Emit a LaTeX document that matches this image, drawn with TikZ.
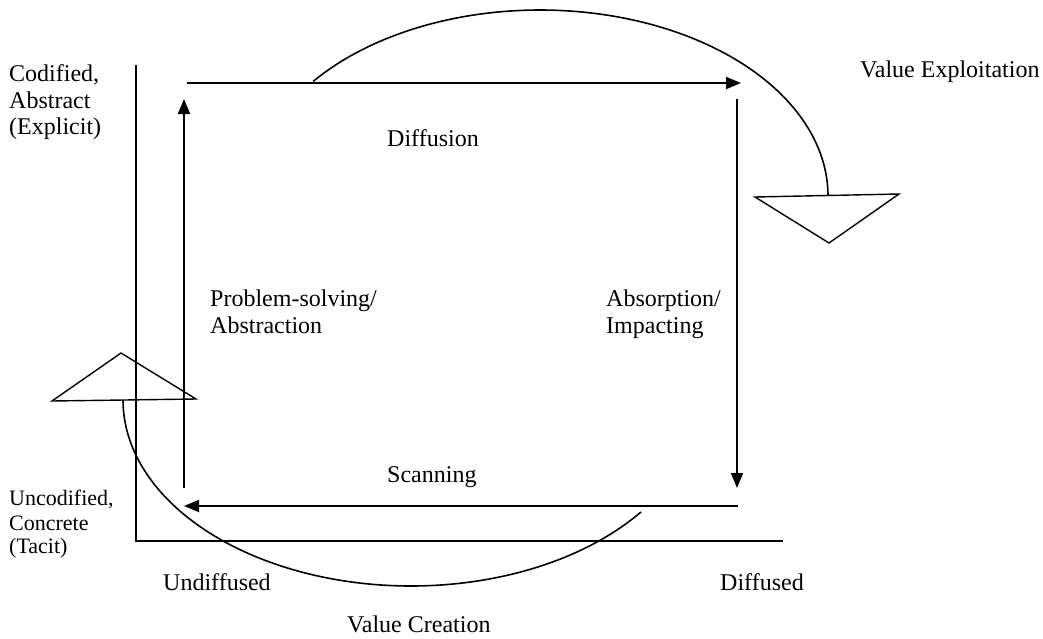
\documentclass[tikz,border=0pt]{standalone}
\usepackage{fontspec}
\setmainfont{Liberation Serif}
\usetikzlibrary{arrows.meta}
\begin{document}
\begin{tikzpicture}[x=1pt,y=-1pt,
  line/.style={line width=1.8pt},
  flow/.style={line width=1.8pt,-{Triangle[length=15pt,width=12pt]}},
  arcline/.style={line width=1.6pt},
  tri/.style={line width=1.4pt,line join=miter},
  lbl/.style={inner sep=0pt,anchor=base west,font=\fontsize{24}{27}\selectfont,align=left},
  slbl/.style={inner sep=0pt,anchor=base west,font=\fontsize{22}{24}\selectfont,align=left}]
\useasboundingbox (0,0) rectangle (1043,638);
% axes
\coordinate (ytop) at (136,65);
\coordinate (orig) at (136,541);
\coordinate (xend) at (783,541);
\draw[line] (ytop) -- (orig) -- (xend);
% cycle corners
\coordinate (tlA) at (187,83);
\coordinate (trA) at (741,83);
\coordinate (trB) at (737,99);
\coordinate (brB) at (737,488);
\coordinate (brC) at (738,506);
\coordinate (blC) at (184,506);
\coordinate (blD) at (184,488);
\coordinate (tlD) at (184,99);
\draw[flow] (tlA) -- (trA);
\draw[flow] (trB) -- (brB);
\draw[flow] (brC) -- (blC);
\draw[flow] (blD) -- (tlD);
% top arc: value exploitation
\draw[arcline] plot[domain=142:0,samples=80,smooth] ({540+288*cos(\x)},{196-186*sin(\x)});
\draw[tri] (755,197) -- (899,194) -- (829,243) -- cycle;
% bottom arc: value creation
\draw[arcline] plot[domain=180:37,samples=80,smooth] ({411+288*cos(\x)},{400+186*sin(\x)});
\draw[tri] (52,401) -- (121,353) -- (196,399) -- cycle;
% labels
\node[lbl] (cod) at (9,81) {Codified,};
\node[lbl] (abs) at (9,108) {Abstract};
\node[lbl] (exp) at (9,134) {(Explicit)};
\node[lbl] (vex) at (860,77) {Value Exploitation};
\node[lbl] (dif) at (387,146) {Diffusion};
\node[lbl] (ps1) at (210,306) {Problem-solving/};
\node[lbl] (ps2) at (210,333) {Abstraction};
\node[lbl] (ab1) at (606,306) {Absorption/};
\node[lbl] (ab2) at (606,333) {Impacting};
\node[lbl] (scn) at (387,482) {Scanning};
\node[slbl] (unc) at (9,505) {Uncodified,};
\node[slbl] (con) at (9,530) {Concrete};
\node[slbl] (tac) at (9,553) {(Tacit)};
\node[lbl] (und) at (163,590) {Undiffused};
\node[lbl] (dfd) at (720,590) {Diffused};
\node[lbl] (vcr) at (347,632) {Value Creation};
\end{tikzpicture}
\end{document}
